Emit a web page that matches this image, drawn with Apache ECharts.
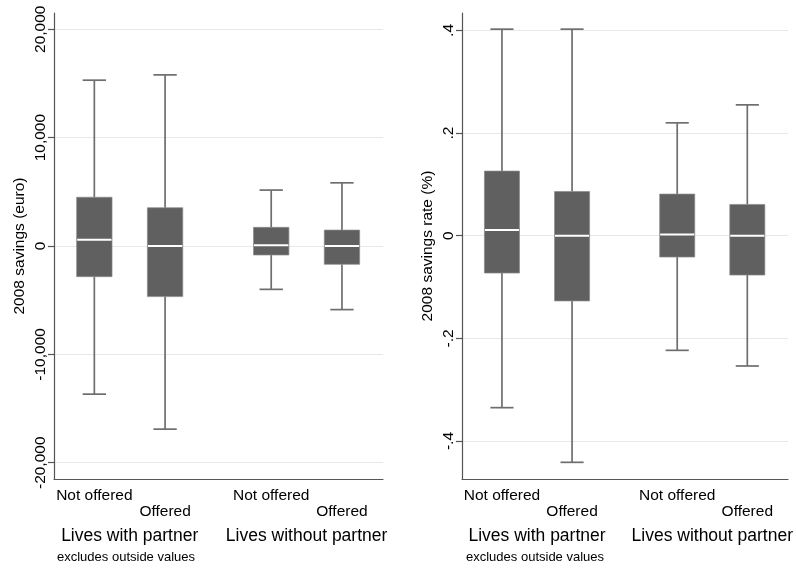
<!DOCTYPE html>
<html>
<head>
<meta charset="utf-8">
<script src="https://cdn.jsdelivr.net/npm/echarts@6/dist/echarts.min.js"></script>
<style>
html,body{margin:0;padding:0;background:#fff;}
#chart{width:796px;height:569px;}
</style>
</head>
<body>
<div id="chart"></div>
<script>
// ---- data ----
const categories = ['Not offered', 'Offered', 'Not offered', 'Offered'];
const groups = ['Lives with partner', 'Lives without partner'];
const noteText = 'excludes outside values';

// left panel: 2008 savings (euro)
const savingsLower  = [-13670, -16900, -4000, -5870];
const savingsQ1     = [-2830, -4670, -830, -1690];
const savingsMedian = [580, 0, 60, 0];
const savingsQ3     = [4500, 3530, 1720, 1470];
const savingsUpper  = [15300, 15790, 5160, 5830];
const savingsTicks  = [-20000, -10000, 0, 10000, 20000];

// right panel: 2008 savings rate (%)
const rateLower  = [-0.335, -0.4415, -0.2233, -0.2538];
const rateQ1     = [-0.0727, -0.127, -0.0415, -0.0766];
const rateMedian = [0.011, 0, 0.0026, 0];
const rateQ3     = [0.126, 0.0863, 0.0812, 0.061];
const rateUpper  = [0.4025, 0.4025, 0.220, 0.255];
const rateTicks  = [-0.4, -0.2, 0, 0.2, 0.4];

// ---- layout helpers ----
const FONT = 'Arial, "Liberation Sans", sans-serif';
const GROUP_STEP = 2.5;           // offset between the two "partner" groups
const boxPos = categories.map((c, i) => Math.floor(i / 2) * GROUP_STEP + (i % 2));
const groupPos = groups.map((g, gi) => gi * GROUP_STEP + 0.5);
const X_MIN = -0.57, X_MAX = 4.08;
const BOX_W = 0.5, CAP_W = 0.33;

function buildData(lo, q1, med, q3, hi) {
  return categories.map((c, i) => [boxPos[i], lo[i], q1[i], med[i], q3[i], hi[i]]);
}

function renderBox(params, api) {
  const x = api.value(0);
  const cx = api.coord([x, api.value(3)])[0];
  const yLo = api.coord([x, api.value(1)])[1];
  const yQ1 = api.coord([x, api.value(2)])[1];
  const yMed = api.coord([x, api.value(3)])[1];
  const yQ3 = api.coord([x, api.value(4)])[1];
  const yHi = api.coord([x, api.value(5)])[1];
  const half = api.size([BOX_W, 0])[0] / 2;
  const capHalf = api.size([CAP_W, 0])[0] / 2;
  const wStyle = { stroke: '#6e6e6e', lineWidth: 1.7 };
  return {
    type: 'group',
    children: [
      { type: 'line', shape: { x1: cx, y1: yHi, x2: cx, y2: yQ3 }, style: wStyle },
      { type: 'line', shape: { x1: cx, y1: yQ1, x2: cx, y2: yLo }, style: wStyle },
      { type: 'line', shape: { x1: cx - capHalf, y1: yHi, x2: cx + capHalf, y2: yHi }, style: wStyle },
      { type: 'line', shape: { x1: cx - capHalf, y1: yLo, x2: cx + capHalf, y2: yLo }, style: wStyle },
      { type: 'rect', shape: { x: cx - half, y: yQ3, width: 2 * half, height: yQ1 - yQ3 },
        style: { fill: '#606060', stroke: '#8a8a8a', lineWidth: 0.7 } },
      { type: 'line', shape: { x1: cx - half + 0.5, y1: yMed, x2: cx + half - 0.5, y2: yMed },
        style: { stroke: '#ffffff', lineWidth: 2 } }
    ]
  };
}

function catFormatter(v) {
  const i = boxPos.findIndex(p => Math.abs(p - v) < 1e-6);
  if (i < 0) return '';
  return (i % 2 === 0) ? categories[i] : '\n' + categories[i];
}
function groupFormatter(v) {
  const i = groupPos.findIndex(p => Math.abs(p - v) < 1e-6);
  return i < 0 ? '' : groups[i];
}
function rateFormatter(v) {
  if (Math.abs(v) < 1e-9) return '0';
  return String(+v.toFixed(2)).replace('0.', '.');
}
function euroFormatter(v) {
  return Math.round(v).toLocaleString('en-US');
}

const axisColor = '#555555';

function catAxis(gridIndex) {
  return {
    type: 'value', gridIndex, min: X_MIN, max: X_MAX, position: 'bottom',
    axisLine: { show: true, onZero: false, lineStyle: { color: axisColor, width: 1.2 } },
    axisTick: { show: false },
    splitLine: { show: false },
    axisLabel: {
      customValues: boxPos, formatter: catFormatter, margin: 8,
      fontSize: 15.5, lineHeight: 16.5, color: '#000', fontFamily: FONT, verticalAlign: 'top'
    }
  };
}
function groupAxis(gridIndex) {
  return {
    type: 'value', gridIndex, min: X_MIN, max: X_MAX, position: 'bottom',
    axisLine: { show: false }, axisTick: { show: false }, splitLine: { show: false },
    axisLabel: {
      customValues: groupPos, formatter: groupFormatter, margin: 48,
      fontSize: 17.5, color: '#000', fontFamily: FONT
    }
  };
}
function valAxis(gridIndex, name, min, max, ticks, fmt) {
  return {
    type: 'value', gridIndex, min, max, name, nameLocation: 'middle', nameGap: 26,
    nameTextStyle: { fontSize: 15.5, color: '#000', fontFamily: FONT },
    axisLine: { show: true, onZero: false, lineStyle: { color: axisColor, width: 1.2 } },
    axisTick: { show: true, length: 6, customValues: ticks, lineStyle: { color: axisColor, width: 1.2 } },
    axisLabel: { customValues: ticks, formatter: fmt, rotate: 90, margin: 5,
      fontSize: 15.5, color: '#000', fontFamily: FONT },
    splitLine: { show: true, lineStyle: { color: '#e8e8e8', width: 1 } }
  };
}

const chart = echarts.init(document.getElementById('chart'), null, { renderer: 'canvas' });
chart.setOption({
  animation: false,
  backgroundColor: '#ffffff',
  title: [
    { text: noteText, left: 52, top: 546, textStyle: { fontSize: 13, fontWeight: 'normal', color: '#000', fontFamily: FONT } },
    { text: noteText, left: 461, top: 546, textStyle: { fontSize: 13, fontWeight: 'normal', color: '#000', fontFamily: FONT } }
  ],
  grid: [
    { left: 54, top: 13, width: 329, bottom: 90, containLabel: false },
    { left: 462, top: 13, width: 330, bottom: 90, containLabel: false }
  ],
  xAxis: [catAxis(0), groupAxis(0), catAxis(1), groupAxis(1)],
  yAxis: [
    valAxis(0, '2008 savings (euro)', -21500, 21500, savingsTicks, euroFormatter),
    valAxis(1, '2008 savings rate (%)', -0.474, 0.434, rateTicks, rateFormatter)
  ],
  series: [
    { type: 'custom', xAxisIndex: 0, yAxisIndex: 0, renderItem: renderBox,
      encode: { x: 0, y: [1, 2, 3, 4, 5] },
      data: buildData(savingsLower, savingsQ1, savingsMedian, savingsQ3, savingsUpper) },
    { type: 'custom', xAxisIndex: 2, yAxisIndex: 1, renderItem: renderBox,
      encode: { x: 0, y: [1, 2, 3, 4, 5] },
      data: buildData(rateLower, rateQ1, rateMedian, rateQ3, rateUpper) }
  ]
});
</script>
</body>
</html>
